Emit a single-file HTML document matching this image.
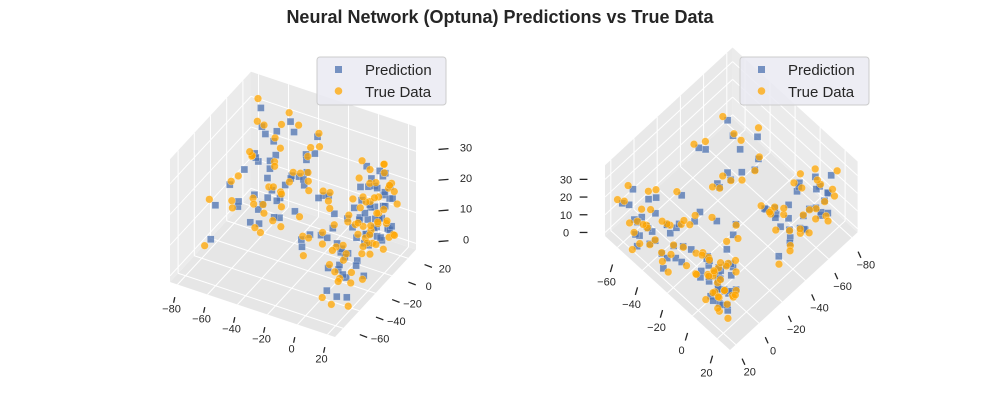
<!DOCTYPE html>
<html><head><meta charset="utf-8"><style>
html,body{margin:0;padding:0;background:#fff;}
svg{display:block;font-family:"Liberation Sans",sans-serif;}
</style></head><body>
<svg id="fig" width="1000" height="400" viewBox="0 0 1000 400">
<text x="500" y="23" text-anchor="middle" font-size="18" font-weight="bold" fill="#262626">Neural Network (Optuna) Predictions vs True Data</text>
<g id="left"></g>
<g id="right"></g>
</svg>
<script>
const trueX=[12,15,8,18,10,5,14,20,3,16,9,12,6,18,2,14,11,7,19,4,15,10,17,1,13, 20,15,22,18,10,24,12,19,8,22,14,25,6,17,11,23,16,9,21,13, -78,-72,-65,-70,-60,-55,-80,-50,-45,-40,-35,-68,-58,-30,-75,-48,-62,-38,-28,-52, -60,-50,-40,-30,-20,-70,-10,-25,-45,-5,
 11,16,6,19,9,3,13,17,8,20, 18,12,23,9,20,15,7,24,13,19, -74,-66,-56,-44,-36,-76,-64,-42,-32,-54, -65,-55,-35,-15,-28,-75,-8,-50,-42,-18];
const trueY=[8,12,5,15,18,10,2,6,14,20,-2,15,0,-4,6,10,22,16,11,-6,-1,4,18,12,-8, -55,-50,-45,-40,-58,-35,-30,-25,-45,-20,-15,-60,-38,-62,-22,-50,-33,-12,-28,-48, 18,22,15,10,20,12,5,24,8,18,22,0,-4,12,14,-2,25,4,20,16, -40,-30,-50,-35,-20,-55,-45,-10,-15,-30,
 0,14,8,2,20,2,6,9,12,16, -58,-42,-38,-30,-12,-56,-52,-25,-18,-45, 8,24,6,14,10,22,6,24,2,20, -30,-50,-25,-35,-48,-40,-15,-8,-38,-5];
const trueZ=[14,10,18,6,12,22,16,8,25,4,20,28,11,15,30,2,18,8,24,13,27,5,19,3,9, 12,20,8,28,5,15,22,3,30,18,10,25,14,18,27,2,7,16,31,11, 15,25,8,30,20,4,12,28,18,10,24,22,6,32,3,14,26,20,8,34, 20,10,25,15,30,8,18,5,28,12,
 12,22,6,30,26,16,20,12,2,16, 30,6,22,9,26,3,24,12,33,17, 20,12,28,2,16,33,5,22,27,10, 14,30,22,8,32,18,24,6,12,20];
const predX=[14,13,10,16,12,3,15,18,5,14,11,10,8,16,4,12,9,9,17,6,13,12,15,3,11, 18,17,20,16,12,22,14,21,10,20,16,23,8,15,13,21,18,11,19,15, -75,-70,-67,-68,-62,-57,-77,-52,-47,-42,-37,-65,-60,-32,-73,-46,-64,-40,-30,-50, -57,-52,-38,-32,-22,-67,-12,-23,-47,-7,
 13,14,8,17,11,5,11,19,10,18, 16,14,21,11,18,17,9,22,15,17, -71,-68,-58,-46,-38,-73,-62,-44,-34,-52, -62,-57,-37,-17,-30,-72,-10,-48,-44,-20];
const predY=[10,10,7,13,16,12,4,8,12,18,0,13,2,-2,8,12,20,14,13,-4,1,6,16,10,-6, -53,-48,-47,-38,-56,-37,-28,-27,-43,-18,-17,-58,-36,-60,-24,-48,-31,-14,-26,-46, 16,20,17,12,18,14,7,22,10,16,20,2,-2,14,12,0,23,6,18,14, -38,-32,-48,-33,-22,-53,-43,-12,-17,-28,
 2,12,10,4,18,4,8,11,14,14, -56,-40,-36,-28,-14,-53,-50,-23,-20,-43, 10,22,8,12,12,20,8,22,4,18, -28,-48,-27,-33,-46,-38,-13,-10,-36,-7];
const predZ=[16,12,16,8,14,20,14,10,23,6,18,26,13,13,28,4,16,10,22,15,25,7,17,5,11, 14,18,10,26,7,13,20,5,28,16,12,23,16,16,25,4,9,18,29,13, 17,23,10,28,18,6,14,26,16,12,22,20,8,30,5,16,24,18,10,32, 18,12,23,17,28,10,16,7,26,14,
 14,20,8,28,24,14,22,10,4,18, 28,8,20,11,24,5,22,14,31,15, 18,14,26,4,18,31,7,20,25,12, 16,28,20,10,30,16,22,8,14,18];
const xTicks=[-80,-60,-40,-20,0,20];
const yTicks=[-60,-40,-20,0,20];
const zTicks=[0,10,20,30];

const NS="http://www.w3.org/2000/svg";
const XR=[-85,25],YR=[-70,30],ZR=[-2,38];
function mk(tag,attrs,parent){const e=document.createElementNS(NS,tag);for(const k in attrs)e.setAttribute(k,attrs[k]);parent.appendChild(e);return e;}
function makeProj(o,x0,y0,ex,ey,ez){return (x,y,z)=>[o[0]+(x-x0)*ex[0]+(y-y0)*ey[0]+(z-ZR[0])*ez[0],o[1]+(x-x0)*ex[1]+(y-y0)*ey[1]+(z-ZR[0])*ez[1]];}
function poly(g,pts,fill,name){const p=mk('polygon',{points:pts.map(q=>q.join(',')).join(' '),fill:fill,stroke:'none'},g);

}
function line(g,a,b,col,w,name){const l=mk('line',{x1:a[0],y1:a[1],x2:b[0],y2:b[1],stroke:col,'stroke-width':w},g);

}

function drawPanel(g,P,cfg){
  const [x0,x1]=XR,[y0,y1]=YR,[z0,z1]=ZR;
  poly(g,[P(x0,y0,z0),P(x1,y0,z0),P(x1,y1,z0),P(x0,y1,z0)],'#e6e6e6','floor-pane');
  const wx=cfg.wx, wy=cfg.wy;
  poly(g,[P(wx,y0,z0),P(wx,y1,z0),P(wx,y1,z1),P(wx,y0,z1)],'#ebebeb','yz-pane');
  poly(g,[P(x0,wy,z0),P(x1,wy,z0),P(x1,wy,z1),P(x0,wy,z1)],'#e9e9e9','xz-pane');
  xTicks.forEach(v=>{line(g,P(v,y0,z0),P(v,y1,z0),'#fff',1,'x-gridline');line(g,P(v,wy,z0),P(v,wy,z1),'#fff',1,'x-gridline');});
  yTicks.forEach(v=>{line(g,P(x0,v,z0),P(x1,v,z0),'#fff',1,'y-gridline');line(g,P(wx,v,z0),P(wx,v,z1),'#fff',1,'y-gridline');});
  zTicks.forEach(v=>{line(g,P(wx,y0,v),P(wx,y1,v),'#fff',1,'z-gridline');line(g,P(x0,wy,v),P(x1,wy,v),'#fff',1,'z-gridline');});
  const lab=(p,off,t,name)=>{const e=mk('text',{x:p[0]+off[0],y:p[1]+off[1],'font-size':11,fill:'#262626','text-anchor':'middle'},g);e.textContent=t;
    
    };
  const tick=(p,d,name)=>line(g,[p[0]+d[0]*0.45,p[1]+d[1]*0.45],[p[0]+d[0]*0.65,p[1]+d[1]*0.65],'#262626',1.3,name);
  xTicks.forEach(v=>{const p=P(v,cfg.xe[0],z0);tick(p,cfg.xo,'x-tick');lab(p,cfg.xo,v<0?'\u2212'+(-v):v,'x-tick-label');});
  yTicks.forEach(v=>{const p=P(cfg.ye[0],v,z0);tick(p,cfg.yo,'y-tick');lab(p,cfg.yo,v<0?'\u2212'+(-v):v,'y-tick-label');});
  zTicks.forEach(v=>{const p=P(cfg.ze[0],cfg.ze[1],v);tick(p,cfg.zo,'z-tick');lab(p,[cfg.zo[0],cfg.zo[1]+4],v,'z-tick-label');});
  for(let i=0;i<predX.length;i++){const p=P(predX[i],predY[i],predZ[i]);
    const r=mk('rect',{x:p[0]-3.5,y:p[1]-3.5,width:7,height:7,fill:'#4c72b0','fill-opacity':0.75,stroke:'#fff','stroke-opacity':0.5,'stroke-width':0.5},g);
    
    }
  for(let i=0;i<trueX.length;i++){const p=P(trueX[i],trueY[i],trueZ[i]);
    const c=mk('circle',{cx:p[0],cy:p[1],r:3.8,fill:'#ffa500','fill-opacity':0.75,stroke:'#fff','stroke-opacity':0.5,'stroke-width':0.5},g);
    
    }
  const lg=mk('g',{},g);
  
  
  const L=cfg.leg;
  mk('rect',{x:L[0],y:L[1],width:129,height:48,rx:3,fill:'#eaeaf2','fill-opacity':0.85,stroke:'#cccccc'},lg);
  const m1=mk('rect',{x:L[0]+18,y:L[1]+9,width:7,height:7,fill:'#4c72b0','fill-opacity':0.75},lg);
  
  
  const m2=mk('circle',{cx:L[0]+21.5,cy:L[1]+34,r:3.8,fill:'#ffa500','fill-opacity':0.75},lg);
  
  
  const t1=mk('text',{x:L[0]+48,y:L[1]+18,'font-size':15,fill:'#262626'},lg);t1.textContent='Prediction';
  
  
  const t2=mk('text',{x:L[0]+48,y:L[1]+40,'font-size':15,fill:'#262626'},lg);t2.textContent='True Data';
  
  
}
const PL=makeProj([170,282],-85,-70,[1.5,0.5],[0.81,-0.875],[0,-3.07]);
drawPanel(document.getElementById('left'),PL,{wx:XR[0],wy:YR[1],xe:[YR[0]],ye:[XR[1]],ze:[XR[1],YR[1]],
  xo:[-6,28],yo:[37,14],zo:[50,-4],leg:[317,57]});
const PR=makeProj([730,350],25,30,[-1.16,1.07],[1.25,1.14],[0,-1.77]);
drawPanel(document.getElementById('right'),PR,{wx:XR[0],wy:YR[0],xe:[YR[1]],ye:[XR[1]],ze:[XR[1],YR[0]],
  xo:[14,31],yo:[-11,38],zo:[-39,0],leg:[740,57]});
</script>
</body></html>
